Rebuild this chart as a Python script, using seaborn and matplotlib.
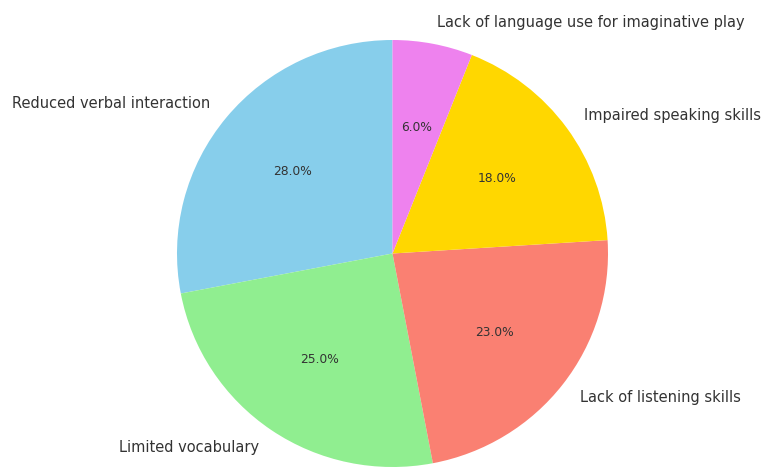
import matplotlib
matplotlib.use("Agg")
import matplotlib.pyplot as plt
import seaborn as sns

sns.set_theme(style="white")
plt.rcParams['font.family'] = ['DejaVu Sans']

categories = ["Reduced verbal interaction", "Limited vocabulary", "Lack of listening skills",
              "Impaired speaking skills", "Lack of language use for imaginative play"]
values = [28, 25, 23, 18, 6]
colors = ["skyblue", "lightgreen", "salmon", "gold", "violet"]

fig = plt.figure(figsize=(7.63, 4.68), dpi=100)
W, H = 763, 468
cx, cy, rx, ry = 392.5, 253.5, 215.5, 213.5
ax = fig.add_axes([(cx - rx) / W, (H - cy - ry) / H, 2 * rx / W, 2 * ry / H])
wedges, texts, autotexts = ax.pie(values, labels=categories, colors=colors, startangle=90,
                                  autopct="%1.1f%%", wedgeprops={"linewidth": 0},
                                  textprops={"fontsize": 10.5, "color": "#333333"})
for t in autotexts:
    t.set_fontsize(8.8)
    t.set_color("#333333")
ax.set_xlim(-1, 1)
ax.set_ylim(-1, 1)
ax.set_aspect("auto")
ax.axis("off")
fig.savefig("out.png", dpi=100)
